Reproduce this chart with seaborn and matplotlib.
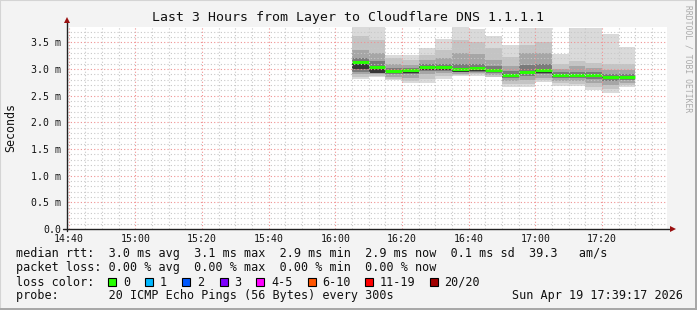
import matplotlib
matplotlib.use("Agg")
import matplotlib.pyplot as plt
import numpy as np
import pandas as pd
import seaborn as sns
from matplotlib.patches import Rectangle

# ---------------- data ----------------
title = "Last 3 Hours from Layer to Cloudflare DNS 1.1.1.1"
bar_start = ["16:05", "16:10", "16:15", "16:20", "16:25", "16:30", "16:35", "16:40", "16:45",
             "16:50", "16:55", "17:00", "17:05", "17:10", "17:15", "17:20", "17:25"]
median_ms = [3.13, 3.04, 2.965, 2.98, 3.04, 3.04, 3.00, 3.02, 2.98,
             2.895, 2.945, 2.98, 2.895, 2.895, 2.895, 2.845, 2.86]
# smoke bands (ms): outer (1) to inner (5)
hi1 = [3.80, 3.80, 3.27, 3.27, 3.39, 3.56, 3.80, 3.75, 3.62, 3.45, 3.77, 3.77, 3.29, 3.77, 3.77, 3.65, 3.41]
lo1 = [2.81, 2.845, 2.80, 2.74, 2.74, 2.81, 2.876, 2.876, 2.845, 2.66, 2.66, 2.75, 2.69, 2.69, 2.60, 2.56, 2.66]
hi2 = [3.62, 3.55, 3.20, 3.17, 3.27, 3.35, 3.55, 3.50, 3.40, 3.22, 3.45, 3.50, 3.10, 3.15, 3.12, 3.10, 3.10]
lo2 = [2.86, 2.87, 2.82, 2.78, 2.82, 2.87, 2.89, 2.90, 2.86, 2.72, 2.72, 2.79, 2.73, 2.72, 2.66, 2.62, 2.70]
hi3 = [3.35, 3.30, 3.10, 3.08, 3.17, 3.20, 3.30, 3.28, 3.18, 3.06, 3.30, 3.30, 3.00, 3.05, 3.02, 2.98, 2.98]
lo3 = [2.90, 2.90, 2.85, 2.84, 2.90, 2.92, 2.91, 2.92, 2.89, 2.78, 2.80, 2.84, 2.78, 2.77, 2.74, 2.70, 2.74]
hi4 = [3.20, 3.15, 3.02, 3.03, 3.09, 3.10, 3.10, 3.10, 3.05, 2.96, 3.08, 3.10, 2.94, 2.95, 2.94, 2.90, 2.91]
lo4 = [2.95, 2.93, 2.90, 2.90, 2.96, 2.97, 2.94, 2.95, 2.92, 2.84, 2.88, 2.90, 2.84, 2.83, 2.82, 2.78, 2.80]
hi5 = [3.13, 3.04, 2.97, 2.98, 3.05, 3.05, 3.00, 3.03, 2.99, 2.90, 2.95, 2.99, 2.90, 2.90, 2.90, 2.85, 2.87]
lo5 = [3.00, 2.92, 2.92, 2.93, 2.99, 2.99, 2.95, 2.97, 2.94, 2.86, 2.90, 2.93, 2.85, 2.85, 2.86, 2.81, 2.82]
band_grays = ["#dadada", "#c4c4c4", "#a6a6a6", "#7a7a7a", "#363636"]

x_tick_labels = ["14:40", "15:00", "15:20", "15:40", "16:00", "16:20", "16:40", "17:00", "17:20"]
y_tick_values = [0.0, 0.5, 1.0, 1.5, 2.0, 2.5, 3.0, 3.5]
y_tick_labels = ["0.0", "0.5 m", "1.0 m", "1.5 m", "2.0 m", "2.5 m", "3.0 m", "3.5 m"]

loss_labels = ["0", "1", "2", "3", "4-5", "6-10", "11-19", "20/20"]
loss_colors = ["#26ff00", "#00b8ff", "#0059ff", "#7e00ff", "#ff00ff", "#ff5500", "#ff0000", "#a10000"]

legend_rtt = "median rtt:  3.0 ms avg  3.1 ms max  2.9 ms min  2.9 ms now  0.1 ms sd  39.3   am/s"
legend_loss = "packet loss: 0.00 % avg  0.00 % max  0.00 % min  0.00 % now"
legend_probe = "probe:       20 ICMP Echo Pings (56 Bytes) every 300s"
stamp = "Sun Apr 19 17:39:17 2026"
side_text = "RRDTOOL / TOBI OETIKER"

# ---------------- helpers ----------------
def tmin(s):
    h, m = map(int, s.split(":"))
    return h * 60 + m - (14 * 60 + 40)

W, H = 697, 310
def fx(x):
    return x / W
def fy(y):
    return 1 - y / H

sns.set_theme(style="white")
plt.rcParams["font.family"] = ["DejaVu Sans Mono", "DejaVu Sans"]

BG = "#f3f3f3"
fig = plt.figure(figsize=(W / 100, H / 100), dpi=100, facecolor=BG)

ax_left, ax_right, ax_top, ax_bot = 67, 667, 27, 229
ax = fig.add_axes([fx(ax_left), fy(ax_bot), (ax_right - ax_left) / W, (ax_bot - ax_top) / H])
ax.set_facecolor("white")

starts = np.array([tmin(s) for s in bar_start], dtype=float)
bands = [(lo1, hi1), (lo2, hi2), (lo3, hi3), (lo4, hi4), (lo5, hi5)]
for (lo, hi), g in zip(bands, band_grays):
    lo = np.array(lo); hi = np.array(hi)
    ax.bar(starts, hi - lo, bottom=lo, width=5, align="edge", color=g, linewidth=0, zorder=1)

# median segments via seaborn
rows = []
for i, (s, m) in enumerate(zip(starts, median_ms)):
    rows.append({"bar": i, "t": s, "median": m})
    rows.append({"bar": i, "t": s + 5, "median": m})
df = pd.DataFrame(rows)
sns.lineplot(data=df, x="t", y="median", units="bar", estimator=None, color="#26ff00",
             linewidth=2.2, ax=ax, legend=False, solid_capstyle="butt", zorder=2)

ax.set_xlim(-0.5, 179.5)
ax.set_ylim(0, 3.79)
ax.set_xlabel("")
ax.set_ylabel("")

ax.set_xticks([tmin(s) for s in x_tick_labels])
ax.set_xticklabels(x_tick_labels)
ax.set_xticks(np.arange(0, 180, 5), minor=True)
ax.set_yticks(y_tick_values)
ax.set_yticklabels(y_tick_labels)
ax.set_yticks(np.arange(0, 3.8, 0.1), minor=True)

ax.set_axisbelow(False)
ax.grid(which="minor", color="#c8c8c8", linestyle=(0, (1, 2)), linewidth=0.8)
ax.grid(which="major", color="#f09090", linestyle=(0, (1, 2)), linewidth=0.8)

ax.tick_params(which="major", length=2, width=0.8, color="#333333", direction="out",
               labelsize=7.1, pad=2, labelcolor="#111111")
ax.tick_params(which="minor", length=1.2, width=0.6, color="#555555", direction="out")
ax.tick_params(axis="x", which="major", pad=1.5)
for sp in ax.spines.values():
    sp.set_visible(False)

# axis lines with arrows
ax.plot([-0.006, 1.008], [0, 0], transform=ax.transAxes, color="#222222", lw=1.0,
        clip_on=False, zorder=6)
ax.plot([0, 0], [-0.012, 1.03], transform=ax.transAxes, color="#222222", lw=1.0,
        clip_on=False, zorder=6)
ax.plot([1.01], [0], marker=">", markersize=5, color="#9a1010", transform=ax.transAxes,
        clip_on=False, zorder=7, markeredgewidth=0)
ax.plot([0], [1.035], marker="^", markersize=5, color="#9a1010", transform=ax.transAxes,
        clip_on=False, zorder=7, markeredgewidth=0)

# texts
fig.text(fx(348), fy(18), title, ha="center", va="center", fontsize=9.55, color="#111111")
fig.text(fx(11), fy(127), "Seconds", rotation=90, ha="center", va="center", fontsize=8.4,
         color="#111111")
fig.text(fx(688), fy(5), side_text, rotation=-90, ha="center", va="top", fontsize=5.8,
         color="#aaaaaa")

LF = 8.5
fig.text(fx(16), fy(254), legend_rtt, ha="left", va="center", fontsize=LF, color="#111111")
fig.text(fx(16), fy(268), legend_loss, ha="left", va="center", fontsize=LF, color="#111111")
fig.text(fx(16), fy(282), "loss color:", ha="left", va="center", fontsize=LF, color="#111111")
box_x = [108, 145, 182, 219.5, 256, 307.5, 365, 430]
lab_x = [123, 160, 197, 234, 271, 322, 380, 444]
for bx, lx, lab, col in zip(box_x, lab_x, loss_labels, loss_colors):
    fig.patches.append(Rectangle((fx(bx), fy(286)), 8 / W, 8 / H, transform=fig.transFigure,
                                 facecolor=col, edgecolor="black", linewidth=0.8))
    fig.text(fx(lx), fy(282), lab, ha="left", va="center", fontsize=LF, color="#111111")
fig.text(fx(16), fy(296), legend_probe, ha="left", va="center", fontsize=LF, color="#111111")
fig.text(fx(683), fy(296), stamp, ha="right", va="center", fontsize=LF, color="#111111")

# frame shading
fig.patches.append(Rectangle((0, 0), 1, 1, transform=fig.transFigure, fill=False,
                             edgecolor="#d4d4d4", linewidth=1.5))
fig.patches.append(Rectangle((fx(695), 0), 2 / W, 1, transform=fig.transFigure,
                             facecolor="#a8a8a8", edgecolor="none"))
fig.patches.append(Rectangle((0, 0), 1, 2 / H, transform=fig.transFigure,
                             facecolor="#a8a8a8", edgecolor="none"))

fig.savefig("out.png", dpi=100, facecolor=BG)
